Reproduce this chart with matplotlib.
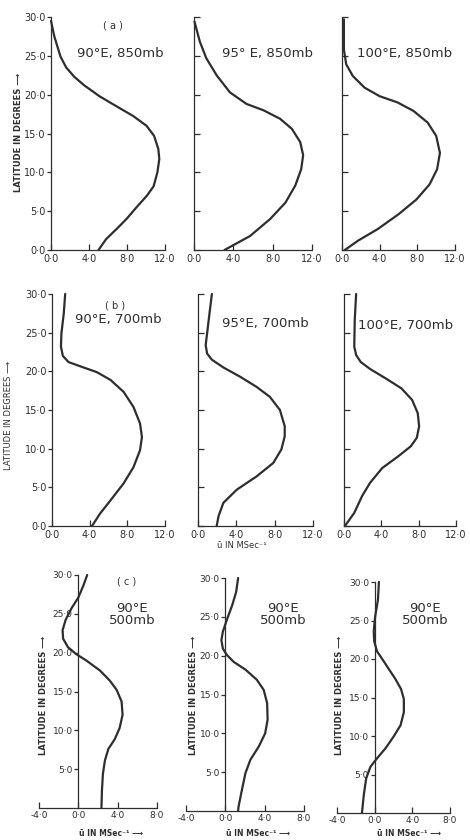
import matplotlib
matplotlib.use("Agg")
import matplotlib.pyplot as plt

W, H = 470, 840
INK = "#2e2e2e"

# (a) 850 mb profiles, latitude (deg) vs mean zonal wind u (m/s)
lat_a90 = [29.5, 27.5, 24.9, 23.5, 22.3, 21.2, 19.8, 18.5, 17.25, 16.0, 14.7, 13.0, 11.7,
           10.0, 8.2, 7.0, 5.5, 4.0, 2.7, 1.4, 0]
u_a90 = [0.0, 0.35, 1.0, 1.6, 2.45, 3.5, 5.1, 6.9, 8.65, 10.05, 10.85, 11.3, 11.4,
         11.2, 10.8, 10.1, 9.0, 7.95, 6.9, 5.8, 5.0]
lat_a95 = [29.4, 26.8, 24.7, 22.5, 20.3, 18.8, 18.0, 16.9, 15.6, 13.9, 12.2, 10.4, 8.3,
           6.1, 4.0, 1.8, 0]
u_a95 = [0.05, 0.6, 1.25, 2.3, 3.65, 5.35, 7.05, 8.75, 9.95, 10.8, 11.1, 10.9, 10.3,
         9.3, 7.75, 5.7, 3.1]
lat_a100 = [29.7, 25.8, 23.9, 22.4, 20.9, 19.8, 19.0, 17.9, 16.4, 14.7, 12.5, 10.4, 8.45,
            6.5, 4.6, 2.7, 1.2, 0]
u_a100 = [0.2, 0.2, 0.45, 1.15, 2.4, 4.0, 5.9, 7.6, 9.1, 10.0, 10.4, 10.1, 9.3,
          7.9, 6.0, 3.8, 1.7, 0.3]

# (b) 700 mb
lat_b90 = [30, 27.5, 24.9, 23.2, 22.0, 21.2, 20.5, 19.9, 18.9, 17.35, 15.4, 13.25, 11.5,
           9.8, 7.6, 5.5, 3.3, 1.6, 0]
u_b90 = [1.4, 1.25, 1.0, 0.95, 1.15, 1.75, 3.35, 4.75, 6.2, 7.6, 8.65, 9.35, 9.55,
         9.35, 8.65, 7.6, 6.2, 5.1, 4.25]
lat_b95 = [30, 27.5, 24.9, 23.4, 22.3, 21.5, 20.5, 19.3, 18.0, 16.7, 15.0, 12.9, 11.6,
           9.9, 8.15, 6.4, 4.7, 3.0, 1.3, 0]
u_b95 = [1.45, 1.2, 0.95, 0.8, 0.95, 1.45, 2.65, 4.4, 6.1, 7.5, 8.55, 9.05, 9.05,
         8.7, 7.85, 6.1, 4.05, 2.65, 2.15, 1.95]
lat_b100 = [30, 26.6, 23.2, 22.1, 21.2, 20.3, 19.1, 17.8, 16.3, 14.6, 12.9, 11.4, 10.3,
            9.0, 7.5, 5.6, 3.9, 1.7, 0]
u_b100 = [1.3, 1.15, 1.1, 1.3, 1.8, 2.8, 4.45, 6.15, 7.3, 7.9, 8.05, 7.8, 7.15,
          5.8, 4.1, 2.8, 1.95, 1.1, 0.1]

# (c) 500 mb
lat_c1 = [30, 28.6, 27.1, 25.7, 24.2, 22.9, 21.8, 20.7, 19.8, 19.0, 17.7, 16.4, 15.2,
          13.7, 12.0, 10.3, 8.85, 7.6, 6.1, 4.4, 2.25, 0]
u_c1 = [0.9, 0.5, 0.0, -0.7, -1.3, -1.6, -1.55, -1.05, -0.2, 0.8, 2.2, 3.2, 3.9,
        4.4, 4.5, 4.2, 3.7, 3.05, 2.7, 2.5, 2.4, 2.35]
lat_c2 = [30, 28.2, 26.5, 24.6, 23.1, 22.0, 20.9, 20.1, 19.2, 18.2, 16.9, 15.6, 13.9,
          11.75, 10.0, 8.3, 6.6, 4.9, 2.8, 0.6, 0]
u_c2 = [1.3, 1.1, 0.7, 0.15, -0.25, -0.4, -0.25, 0.15, 0.85, 2.05, 3.2, 3.9, 4.25,
        4.3, 4.05, 3.4, 2.55, 2.05, 1.7, 1.35, 1.3]
lat_c3 = [30, 27.7, 25.5, 23.6, 22.3, 21.0, 20.0, 18.7, 17.4, 16.1, 14.8, 13.1, 11.4,
          9.9, 8.4, 7.1, 6.0, 4.5, 2.4, 0]
u_c3 = [0.45, 0.35, 0.05, -0.1, -0.05, 0.25, 0.8, 1.5, 2.2, 2.8, 3.1, 3.1, 2.75,
        2.0, 1.15, 0.25, -0.45, -0.9, -1.15, -1.35]

lat_ticks = [0, 5, 10, 15, 20, 25, 30]
u_ticks_top = [0, 4, 8, 12]
u_ticks_c = [-4, 0, 4, 8]

YLAB = "LATITUDE IN DEGREES \u27f6"
XLAB = "\u016b IN MSec\u207b\u00b9"


def rect(x0, x1, ytop, ybot):
    return [x0 / W, 1 - ybot / H, (x1 - x0) / W, (ybot - ytop) / H]


def fmt(v):
    return ("%.1f" % v).replace(".", "\u00b7")


def put(x, y, s, **kw):
    kw.setdefault("color", INK)
    kw.setdefault("ha", "center")
    kw.setdefault("va", "center")
    fig.text(x / W, 1 - y / H, s, **kw)


def top_panel(box, lat, u, show_y):
    ax = fig.add_axes(rect(*box))
    ax.plot(u, lat, color=INK, lw=1.6, solid_capstyle="round", solid_joinstyle="round",
            clip_on=False)
    ax.set_xlim(0, 12)
    ax.set_ylim(0, 30)
    ax.set_xticks(u_ticks_top)
    ax.set_xticklabels([fmt(v) for v in u_ticks_top])
    ax.set_yticks(lat_ticks)
    for s in ["top", "right"]:
        ax.spines[s].set_visible(False)
    for s in ["left", "bottom"]:
        ax.spines[s].set_color(INK)
        ax.spines[s].set_linewidth(0.9)
    ax.tick_params(axis="x", direction="in", length=4, width=0.9, colors=INK,
                   labelsize=7, pad=3)
    if show_y:
        ax.set_yticklabels([fmt(v) for v in lat_ticks])
        ax.tick_params(axis="y", direction="out", length=3, width=0.9, colors=INK,
                       labelsize=7, pad=1)
    else:
        ax.set_yticklabels([])
        ax.tick_params(axis="y", direction="in", length=4, width=0.9, colors=INK)
    ax.patch.set_alpha(0)
    return ax


def low_panel(box, lat, u):
    ax = fig.add_axes(rect(*box))
    ax.plot(u, lat, color=INK, lw=1.6, solid_capstyle="round", solid_joinstyle="round",
            clip_on=False)
    ax.set_xlim(-4, 8)
    ax.set_ylim(0, 30)
    ax.set_xticks(u_ticks_c)
    ax.set_xticklabels([fmt(v) for v in u_ticks_c])
    ax.set_yticks(lat_ticks[1:])
    ax.set_yticklabels([fmt(v) for v in lat_ticks[1:]])
    for s in ["top", "right"]:
        ax.spines[s].set_visible(False)
    ax.spines["left"].set_position(("data", 0))
    for s in ["left", "bottom"]:
        ax.spines[s].set_color(INK)
        ax.spines[s].set_linewidth(0.9)
    ax.tick_params(axis="x", direction="in", length=4, width=0.9, colors=INK,
                   labelsize=6.5, pad=2)
    ax.tick_params(axis="y", direction="out", length=3, width=0.9, colors=INK,
                   labelsize=6.5, pad=1)
    ax.patch.set_alpha(0)
    return ax


fig = plt.figure(figsize=(W / 100, H / 100), dpi=100)
fig.patch.set_facecolor("white")

# row (a)
top_panel((51, 165, 17, 250), lat_a90, u_a90, True)
top_panel((194, 312, 17, 250), lat_a95, u_a95, False)
top_panel((342, 455, 17, 250), lat_a100, u_a100, False)
put(113, 25, "( a )", fontsize=7)
put(120, 53, "90\u00b0E, 850mb", fontsize=9.5)
put(268, 53, "95\u00b0 E, 850mb", fontsize=9.5)
put(405, 53, "100\u00b0E, 850mb", fontsize=9.5)
put(19, 132, YLAB, fontsize=6, rotation=90, fontweight="bold")

# row (b)
top_panel((52, 165, 294, 526), lat_b90, u_b90, True)
top_panel((198, 313, 294, 526), lat_b95, u_b95, False)
top_panel((344, 456, 294, 526), lat_b100, u_b100, False)
put(115, 305, "( b )", fontsize=7)
put(118, 320, "90\u00b0E, 700mb", fontsize=9.5)
put(265, 324, "95\u00b0E, 700mb", fontsize=9.5)
put(406, 325, "100\u00b0E, 700mb", fontsize=9.5)
put(9, 416, YLAB, fontsize=6, rotation=90)
put(242, 546, XLAB, fontsize=6)

# row (c)
low_panel((39, 157, 575, 808), lat_c1, u_c1)
low_panel((186, 304, 578, 811), lat_c2, u_c2)
low_panel((337, 450, 582, 813), lat_c3, u_c3)
put(127, 582, "( c )", fontsize=7)
for xc in [132, 283, 425]:
    put(xc, 608, "90\u00b0E", fontsize=9.5)
    put(xc, 621, "500mb", fontsize=9.5)
for xc in [43, 193, 340]:
    put(xc, 695, YLAB, fontsize=6, rotation=90, fontweight="bold")
for xl in [79, 226, 377]:
    put(xl, 833, XLAB + " \u27f6", fontsize=5.5, ha="left", fontweight="bold")

fig.savefig("out.png", dpi=100, facecolor="white")
